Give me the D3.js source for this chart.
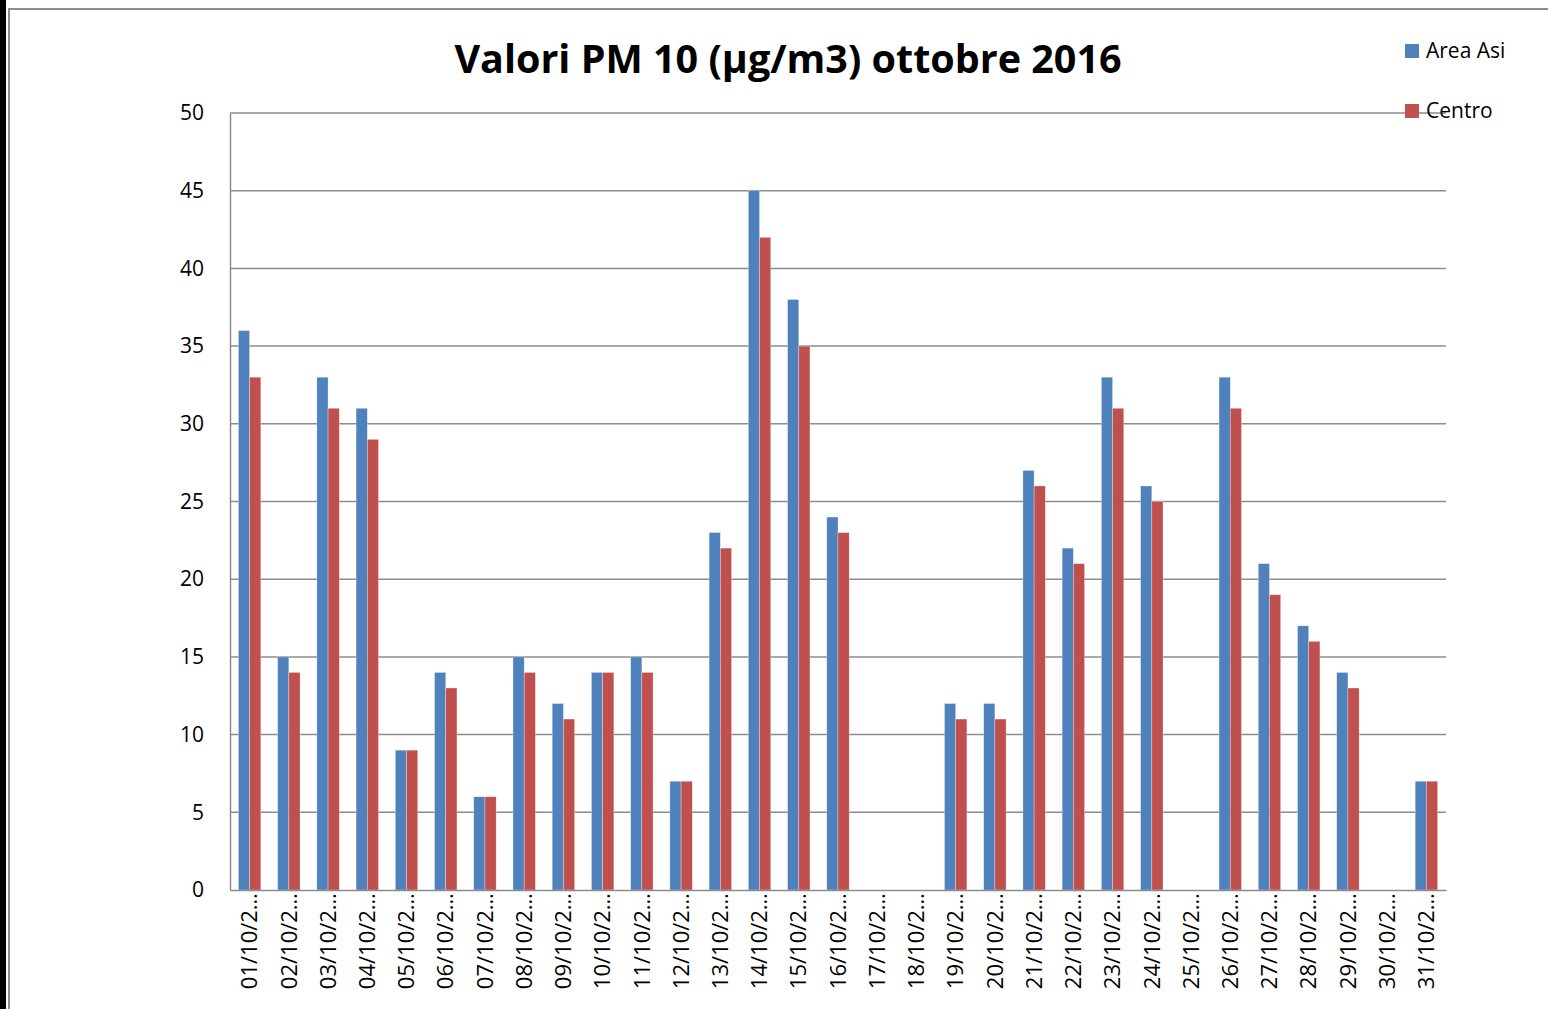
<!DOCTYPE html>
<html>
<head>
<meta charset="utf-8">
<script src="https://cdn.jsdelivr.net/npm/d3@7"></script>
<style>
  body { margin: 0; background: #fff; }
  svg { display: block; font-family: "Open Sans", "Noto Sans", sans-serif; }
</style>
</head>
<body>
<div id="chart"></div>
<script>
// chart values
const days = ["01/10/2…","02/10/2…","03/10/2…","04/10/2…","05/10/2…","06/10/2…","07/10/2…","08/10/2…",
              "09/10/2…","10/10/2…","11/10/2…","12/10/2…","13/10/2…","14/10/2…","15/10/2…","16/10/2…",
              "17/10/2…","18/10/2…","19/10/2…","20/10/2…","21/10/2…","22/10/2…","23/10/2…","24/10/2…",
              "25/10/2…","26/10/2…","27/10/2…","28/10/2…","29/10/2…","30/10/2…","31/10/2…"];
const areaAsi = [36,15,33,31,9,14,6,15,12,14,15,7,23,45,38,24,null,null,12,12,27,22,33,26,null,33,21,17,14,null,7];
const centro  = [33,14,31,29,9,13,6,14,11,14,14,7,22,42,35,23,null,null,11,11,26,21,31,25,null,31,19,16,13,null,7];
const seriesNames = ["Area Asi", "Centro"];
const yTicks = [0,5,10,15,20,25,30,35,40,45,50];

const W = 1548, H = 1009;
const m = { t: 113, r: 102, b: 119, l: 230 };   // plot box 230..1446 x 113..890
const colors = ["#4F81BD", "#C0504D"];
const FONT = '"Open Sans", "Noto Sans", sans-serif';

const svg = d3.select("#chart").append("svg").attr("width", W).attr("height", H);

// black strip + grey frame like the source image
svg.append("rect").attr("x", 0).attr("y", 0).attr("width", 6).attr("height", H).attr("fill", "#000");
svg.append("rect").attr("x", 9).attr("y", 9).attr("width", W + 20).attr("height", H + 20)
    .attr("fill", "none").attr("stroke", "#8c8c8c").attr("stroke-width", 2);

const x = d3.scaleBand().domain(days).range([m.l, W - m.r]).paddingInner(0).paddingOuter(0);
const bw = x.bandwidth() / 3.5;      // gap width 150%
const y = d3.scaleLinear().domain([0, 50]).range([H - m.b, m.t]);

// grid
svg.append("g").selectAll("line").data(yTicks.slice(1)).enter().append("line")
    .attr("x1", m.l).attr("x2", W - m.r)
    .attr("y1", d => y(d)).attr("y2", d => y(d))
    .attr("stroke", "#8c8c8c").attr("stroke-width", 1.5);

// bars
const table = days.map((d, i) => ({ day: d, vals: [areaAsi[i], centro[i]] }));
seriesNames.forEach((name, s) => {
  svg.append("g").selectAll("rect")
    .data(table.filter(d => d.vals[s] != null)).enter()
    .append("rect")
    .attr("x", d => x(d.day) + x.bandwidth() / 2 - bw + s * bw)
    .attr("y", d => y(d.vals[s]))
    .attr("width", bw)
    .attr("height", d => y(0) - y(d.vals[s]))
    .attr("fill", colors[s])
    .attr("stroke", "#fff").attr("stroke-width", 0.6).attr("stroke-opacity", 0.5);
});

// y axis
const yAxis = svg.append("g").attr("transform", "translate(" + m.l + ",0)")
    .call(d3.axisLeft(y).tickValues(yTicks).tickSize(0).tickPadding(26));
yAxis.attr("font-family", FONT);
yAxis.select(".domain").attr("stroke", "#8c8c8c").attr("stroke-width", 1.5);
yAxis.selectAll("text").attr("font-size", "21px").attr("fill", "#000");

// x axis
const xAxis = svg.append("g").attr("transform", "translate(0," + y(0) + ")")
    .call(d3.axisBottom(x).tickSize(0).tickPadding(0));
xAxis.attr("font-family", FONT);
xAxis.select(".domain").attr("stroke", "#8c8c8c").attr("stroke-width", 1.5);
xAxis.selectAll("text")
    .attr("font-size", "22px").attr("fill", "#000")
    .style("text-anchor", "end")
    .attr("transform", "rotate(-90)")
    .attr("x", -3).attr("y", 0).attr("dy", "0.35em");

// title
svg.append("text").attr("x", 788).attr("y", 73).attr("text-anchor", "middle")
    .attr("font-size", "39.5px").attr("font-weight", "bold").text("Valori PM 10 (µg/m3) ottobre 2016");

// legend
const leg = svg.append("g").selectAll("g").data(seriesNames).enter().append("g")
    .attr("transform", (d, i) => "translate(1405," + (51 + i * 60) + ")");
leg.append("rect").attr("x", 0).attr("y", -7).attr("width", 14).attr("height", 14)
    .attr("fill", (d, i) => colors[i]);
leg.append("text").attr("x", 21).attr("y", 0).attr("dy", "0.35em")
    .attr("font-size", "21px").text(d => d);
</script>
</body>
</html>
